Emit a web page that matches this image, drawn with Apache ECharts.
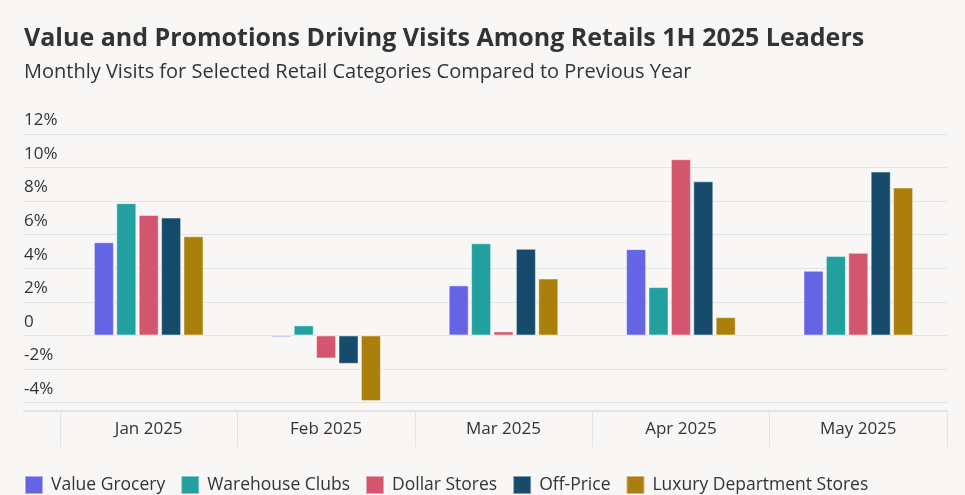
<!DOCTYPE html>
<html>
<head>
	<meta charset="utf-8">
	<title>Retail visits 1H 2025</title>
	<script src="https://cdn.jsdelivr.net/npm/echarts@6/dist/echarts.min.js"></script>
	<style>
		html, body { margin: 0; padding: 0; background: #f8f7f5; }
	</style>
</head>

<body>
	<div style="width:965px;height:495px;" id="chart1"></div>

	<script>
	// months on the x axis
	var months = ['Jan 2025', 'Feb 2025', 'Mar 2025', 'Apr 2025', 'May 2025'];

	// year-over-year visit change, in %
	var valueGrocery    = [5.55, -0.1, 2.98, 5.14, 3.85];
	var warehouseClubs  = [7.88, 0.6, 5.49, 2.88, 4.74];
	var dollarStores    = [7.18, -1.37, 0.24, 10.5, 4.92];
	var offPrice        = [7.02, -1.69, 5.16, 9.18, 9.76];
	var luxuryDept      = [5.91, -3.91, 3.39, 1.09, 8.81];

	var names  = ['Value Grocery', 'Warehouse Clubs', 'Dollar Stores', 'Off-Price', 'Luxury Department Stores'];
	var values = [valueGrocery, warehouseClubs, dollarStores, offPrice, luxuryDept];
	var colors = ['#6464e4', '#21a09f', '#d4566e', '#174b6b', '#aa7f0b'];

	var font = 'Open Sans';
	var yMin = -4.5, yMax = 12;

	function show() {
		var myChart = echarts.init(document.getElementById('chart1'));

		var series = [];
		for (var i = 0; i < names.length; i++) {
			series.push({
				name: names[i],
				type: 'bar',
				xAxisIndex: 1,
				yAxisIndex: 1,
				data: values[i],
				barWidth: 20,
				barGap: '12%',
				itemStyle: {
					color: colors[i],
					borderColor: 'rgba(255,255,255,0.45)',
					borderWidth: 1
				}
			});
		}

		var option = {
			backgroundColor: '#f8f7f5',
			animation: false,
			textStyle: { fontFamily: font },
			title: [{
				text: 'Value and Promotions Driving Visits Among Retails 1H 2025 Leaders',
				left: 19,
				top: 21,
				textStyle: { fontFamily: font, fontSize: 25, fontWeight: 'bold', color: '#333' }
			}, {
				text: 'Monthly Visits for Selected Retail Categories Compared to Previous Year',
				left: 19,
				top: 57,
				textStyle: { fontFamily: font, fontSize: 20, fontWeight: 'normal', color: '#333' }
			}],
			legend: {
				data: names,
				left: 19,
				top: 470,
				icon: 'rect',
				itemWidth: 18,
				itemHeight: 18,
				itemGap: 15,
				textStyle: { fontFamily: font, fontSize: 17.5, color: '#333', padding: [0, 0, 0, 3] }
			},
			grid: [
				{ left: 24, right: 18, top: 134, bottom: 84 },
				{ left: 60, right: 18, top: 134, bottom: 84 }
			],
			xAxis: [{
				// only carries the long bottom line
				type: 'value',
				gridIndex: 0,
				min: 0, max: 1,
				axisLine: { show: true, onZero: false, lineStyle: { color: '#e4e4e4', width: 2 } },
				axisTick: { show: false },
				axisLabel: { show: false },
				splitLine: { show: false }
			}, {
				type: 'category',
				gridIndex: 1,
				data: months,
				axisLine: { show: false, onZero: false },
				axisTick: { show: true, length: 36, lineStyle: { color: '#e4e4e4' } },
				axisLabel: { margin: 10, fontFamily: font, fontSize: 17, color: '#333' }
			}],
			yAxis: [{
				type: 'value',
				gridIndex: 0,
				min: yMin, max: yMax,
				minInterval: 2, maxInterval: 2, splitNumber: 8,
				axisLine: { show: false },
				axisTick: { show: false },
				axisLabel: {
					inside: true,
					margin: 0,
					verticalAlign: 'bottom',
					padding: [0, 0, 5, 0],
					fontFamily: font,
					fontSize: 17,
					color: '#333',
					formatter: function (v) {
						if (v === 0) return '0';
						if (v % 2 !== 0) return '';
						return v + '%';
					}
				},
				splitLine: { lineStyle: { color: '#e4e4e4', width: 1 } }
			}, {
				type: 'value',
				gridIndex: 1,
				min: yMin, max: yMax,
				show: false,
				splitLine: { show: false }
			}],
			series: series
		};

		myChart.setOption(option);
	}

	show();
	</script>
</body>

</html>
